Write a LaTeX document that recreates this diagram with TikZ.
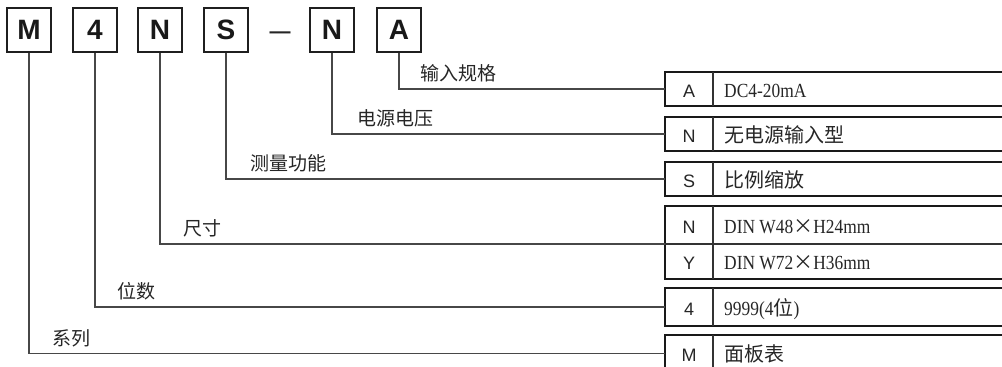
\documentclass[tikz,border=0pt]{standalone}
\usepackage{fontspec}
\setmainfont{Liberation Sans}
\newfontfamily\cjk{Noto Sans CJK SC}
\newfontfamily\descfont[FakeStretch=0.87]{Liberation Serif}
\begin{document}
\begin{tikzpicture}[x=1pt,y=-1pt,
  codebox/.style={draw=black!88, line width=2pt, minimum width=44pt, minimum height=44pt, inner sep=0pt,
    font=\fontsize{28}{28}\selectfont\bfseries, text=black!90},
  conn/.style={draw=black!72, line width=1.4pt},
  lbl/.style={anchor=base west, inner sep=0pt, font=\cjk\fontsize{19}{19}\selectfont, text=black!85},
  rowbox/.style={draw=black!90, line width=2.4pt},
  divline/.style={draw=black!80, line width=1.2pt},
  keycell/.style={minimum width=48pt, minimum height=34pt, inner sep=0pt},
  keytext/.style={anchor=base, inner sep=0pt, font=\fontsize{18}{18}\selectfont, text=black!85},
  desc/.style={anchor=base west, inner sep=0pt, font=\descfont\fontsize{20}{20}\selectfont, text=black!85},
  cjkdesc/.style={anchor=base west, inner sep=0pt, font=\cjk\fontsize{20}{20}\selectfont, text=black!85}]
\useasboundingbox (0,0) rectangle (1002,367);
\clip (0,0) rectangle (1002,367);

% code boxes
\node[codebox] (bM) at (29,30) {M};
\node[codebox] (b4) at (95,30) {4};
\node[codebox] (bN) at (160,30) {N};
\node[codebox] (bS) at (226,30) {S};
\node[inner sep=0pt, font=\fontsize{21}{21}\selectfont\bfseries, text=black!85] (dash) at (280,35) {—};
\node[codebox] (bN2) at (332,30) {N};
\node[codebox] (bA) at (399,30) {A};

% table rows
\draw[rowbox] (1010,72) -- (665,72) -- (665,106) -- (1010,106);
\draw[divline] (713,72) -- (713,106);
\draw[rowbox] (1010,117) -- (665,117) -- (665,151) -- (1010,151);
\draw[divline] (713,117) -- (713,151);
\draw[rowbox] (1010,162) -- (665,162) -- (665,196) -- (1010,196);
\draw[divline] (713,162) -- (713,196);
\draw[rowbox] (1010,206) -- (665,206) -- (665,279) -- (1010,279);
\draw[divline] (665,244) -- (1010,244);
\draw[divline] (713,206) -- (713,279);
\draw[rowbox] (1010,288) -- (665,288) -- (665,326) -- (1010,326);
\draw[divline] (713,288) -- (713,326);
\draw[rowbox] (1010,335) -- (665,335) -- (665,375);
\draw[divline] (713,335) -- (713,375);

% key cells
\node[keycell] (tA) at (689,89) {};
\node[keycell] (tN) at (689,134) {};
\node[keycell] (tS) at (689,179) {};
\node[keycell] (tNa) at (689,225) {};
\node[keycell] (tY) at (689,261.5) {};
\coordinate (tNY) at (665,244);
\node[keycell] (t4) at (689,307) {};
\node[keycell] (tM) at (689,353.5) {};

\node[keytext] (kA) at (689,97) {A};
\node[keytext] (kN) at (689,142) {N};
\node[keytext] (kS) at (689,187) {S};
\node[keytext] (kNa) at (689,233) {N};
\node[keytext] (kY) at (689,269.5) {Y};
\node[keytext] (k4) at (689,315) {4};
\node[keytext] (kM) at (689,361.5) {M};

% descriptions
\node[desc] (dA) at (724,97) {DC4-20mA};
\node[cjkdesc] (dN) at (724,142) {无电源输入型};
\node[cjkdesc] (dS) at (724,187) {比例缩放};
\node[desc] (dNa) at (724,233) {DIN\ W48{\cjk\fontsize{20}{20}\selectfont ×}H24mm};
\node[desc] (dY) at (724,269.5) {DIN\ W72{\cjk\fontsize{20}{20}\selectfont ×}H36mm};
\node[desc] (d4) at (724,315) {9999(4{\cjk\fontsize{20}{20}\selectfont 位})};
\node[cjkdesc] (dM) at (724,361.5) {面板表};

% connectors
\draw[conn] (bA.south) |- (tA.west);
\draw[conn] (bN2.south) |- (tN.west);
\draw[conn] (bS.south) |- (tS.west);
\draw[conn] (bN.south) |- (tNY);
\draw[conn] (b4.south) |- (t4.west);
\draw[conn] (bM.south) |- (tM.west);

% labels
\node[lbl] (lA) at (420,80.5) {输入规格};
\node[lbl] (lN) at (357,125.5) {电源电压};
\node[lbl] (lS) at (250,170.5) {测量功能};
\node[lbl] (lNY) at (183,235.5) {尺寸};
\node[lbl] (l4) at (117,298.5) {位数};
\node[lbl] (lM) at (52,345) {系列};
\end{tikzpicture}
\end{document}
